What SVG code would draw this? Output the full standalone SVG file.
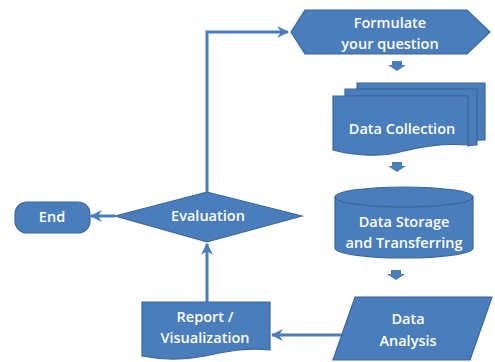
<svg xmlns="http://www.w3.org/2000/svg" width="495" height="362" viewBox="0 0 495 362">
<defs>
<style>
.shape{fill:#4a7dbb;stroke:#3b6799;stroke-width:1.2}
.t{fill:#ffffff;font-family:"Open Sans","Noto Sans",sans-serif;font-weight:600;font-size:14.5px;text-anchor:middle}
.conn{fill:none;stroke:#4a7dbb;stroke-width:3}
.blk{fill:#4a7dbb;stroke:none}
</style>
<marker id="ah" viewBox="0 0 10 10" refX="9" refY="5" markerWidth="4" markerHeight="4" orient="auto" markerUnits="strokeWidth">
<path d="M0,0 L10,5 L0,10 L3,5 z" fill="#4a7dbb"/>
</marker>
</defs>
<rect width="495" height="362" fill="#ffffff"/>

<g id="connectors">
<polyline class="conn" points="207,192 207,32 288,32" marker-end="url(#ah)"/>
<line class="conn" x1="207" y1="302" x2="207" y2="244" marker-end="url(#ah)"/>
<line class="conn" x1="115" y1="216" x2="91" y2="216" marker-end="url(#ah)"/>
<line class="conn" x1="342" y1="335" x2="272" y2="335" marker-end="url(#ah)"/>
<path class="blk" d="M392,61 H402 V65 H406 L397,71 L388,65 H392 Z"/>
<path class="blk" d="M392,162 H402 V166 H406 L397,172 L388,166 H392 Z"/>
<path class="blk" d="M391,270 H401 V274 H405 L396,280 L387,274 H391 Z"/>
</g>

<g id="formulate">
<polygon class="shape" points="291,32 305,10 467,10 490,32 467,54 305,54"/>
<text class="t" x="390" y="28">Formulate</text>
<text class="t" x="390" y="49">your question</text>
</g>

<g id="collection">
<path class="shape" d="M357,83 H485 V140 Q478,140 473,141 V89 H357 Z"/>
<path class="shape" d="M345,89 H477 V145 Q472,145 468,146 V96 H345 Z"/>
<path class="shape" d="M333,96 H468 V145 C440,143 420,147 400,152 C380,157 355,156 333,150 Z"/>
<text class="t" x="402" y="134">Data Collection</text>
</g>

<g id="storage">
<path class="shape" d="M335,197 A69,10 0 0 1 473,197 V248 A69,10 0 0 1 335,248 Z"/>
<path fill="none" stroke="#3b6799" stroke-width="1.2" d="M335,197 A69,10 0 0 0 473,197"/>
<text class="t" x="404" y="227">Data Storage</text>
<text class="t" x="404" y="248">and Transferring</text>
</g>

<g id="analysis">
<polygon class="shape" points="355,297 492,297 470,360 333,360"/>
<text class="t" x="408" y="324">Data</text>
<text class="t" x="408" y="346">Analysis</text>
</g>

<g id="report">
<path class="shape" d="M142,302 H270 V350 C245,347 225,352 205,356 C185,360 162,360 142,356 Z"/>
<text class="t" x="205" y="322">Report /</text>
<text class="t" x="205" y="343">Visualization</text>
</g>

<g id="evaluation">
<polygon class="shape" points="115,216 207,192 302,216 207,242"/>
<text class="t" x="208" y="221">Evaluation</text>
</g>

<g id="end">
<rect class="shape" x="15" y="202" width="75" height="31" rx="12" ry="12"/>
<text class="t" x="52" y="222">End</text>
</g>
</svg>
